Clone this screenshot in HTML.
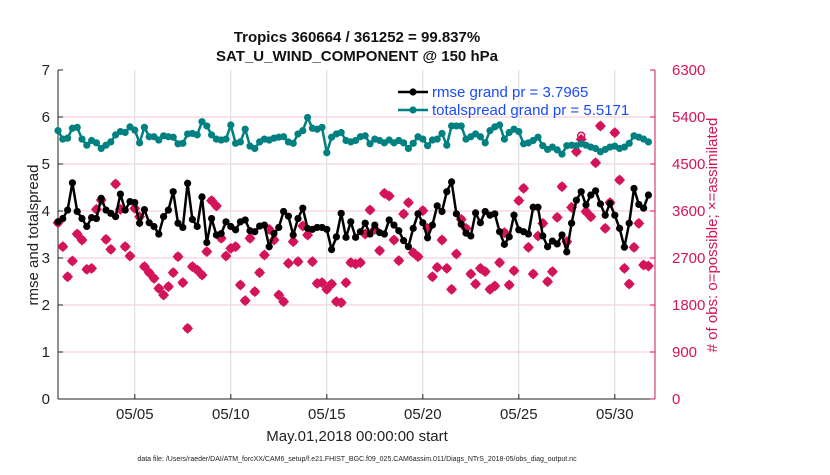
<!DOCTYPE html>
<html><head><meta charset="utf-8"><style>
body{margin:0;background:#fff;width:830px;height:470px;overflow:hidden;font-family:"Liberation Sans",Arial,sans-serif}
</style></head><body>
<svg id="chart" width="830" height="470" xmlns="http://www.w3.org/2000/svg" font-family="Liberation Sans, Arial, sans-serif"></svg>
<script>
const rmse=[3.77,3.84,4.02,4.60,3.99,3.84,3.67,3.86,3.84,4.27,4.02,3.95,3.88,4.36,4.02,4.20,4.18,3.74,4.03,3.75,3.67,3.51,3.88,4.02,4.41,3.74,3.65,4.59,3.82,3.67,4.30,3.33,3.84,3.49,3.52,3.77,3.67,3.60,3.77,3.81,3.58,3.56,3.68,3.70,3.24,3.52,3.65,3.99,3.89,3.49,3.84,4.06,3.63,3.61,3.65,3.65,3.61,3.18,3.45,3.95,3.44,3.77,
3.44,3.56,3.74,3.51,3.70,3.54,3.51,3.81,3.70,3.58,3.37,3.24,3.63,3.94,3.75,3.43,3.70,4.11,3.99,4.41,4.62,3.94,3.72,3.53,3.47,3.96,3.75,3.99,3.91,3.94,3.56,3.29,3.45,3.91,3.60,3.56,3.51,4.08,4.08,3.47,3.24,3.36,3.30,3.49,3.13,3.74,4.23,4.41,4.13,4.34,4.43,4.15,3.91,4.16,3.91,3.63,3.23,3.74,4.48,4.14,4.06,4.34];
const spread=[5.71,5.53,5.55,5.76,5.78,5.53,5.40,5.50,5.45,5.33,5.40,5.47,5.62,5.69,5.67,5.79,5.72,5.45,5.78,5.58,5.58,5.51,5.60,5.58,5.57,5.43,5.44,5.64,5.65,5.62,5.90,5.81,5.62,5.53,5.51,5.53,5.83,5.44,5.47,5.74,5.38,5.33,5.47,5.53,5.51,5.55,5.57,5.58,5.47,5.44,5.64,5.71,5.99,5.76,5.74,5.78,5.24,5.57,5.64,5.67,5.50,5.47,
5.50,5.58,5.60,5.43,5.53,5.50,5.45,5.51,5.45,5.50,5.45,5.33,5.44,5.58,5.53,5.39,5.51,5.53,5.65,5.40,5.81,5.81,5.81,5.53,5.58,5.64,5.58,5.45,5.71,5.79,5.83,5.53,5.67,5.74,5.69,5.43,5.45,5.50,5.57,5.39,5.31,5.36,5.30,5.21,5.39,5.40,5.39,5.43,5.40,5.36,5.33,5.26,5.31,5.36,5.38,5.33,5.36,5.44,5.60,5.57,5.53,5.47];
const assim=[3376,2917,2342,2643,3160,3045,2483,2502,3632,3811,3057,2866,4117,3632,2917,2738,3651,3491,2534,2419,2311,2119,1991,2151,2419,2726,2228,1353,2534,2470,2374,2821,3798,3696,3077,2738,2885,2917,2183,1883,3077,2055,2419,2757,3249,3045,1991,1864,2598,3013,2630,3313,3140,2630,2215,2228,2100,2202,1864,1845,2228,2611,
2585,2611,3160,3619,3249,2841,3938,3887,3045,2649,3543,3760,2802,2726,3607,3268,2342,2521,3045,2502,2100,2777,3440,3268,2394,2202,2502,2438,2100,2164,2611,3185,2183,2457,3798,4034,2904,2394,3121,3364,2247,2438,3479,4066,3013,3670,4736,4972,3587,3491,4525,5228,3268,3760,5100,4194,2502,2202,2904,3364,2566,2547];
const possible=assim.slice(); possible[109]=5040;
const leftTicks=[0,1,2,3,4,5,6,7];
const rightTicks=[0,900,1800,2700,3600,4500,5400,6300];
const dateTicks=[4,9,14,19,24,29];
const dateLabels=["05/05","05/10","05/15","05/20","05/25","05/30"];
const stepDays=0.25;

const NS="http://www.w3.org/2000/svg";
const svg=document.getElementById('chart');
const X0=58,X1=655,Y0=399,Y1=70;
const xs=d=>X0+d*19.2;
const yl=v=>Y0-(v/7)*(Y0-Y1);
const yr=v=>Y0-(v/6300)*(Y0-Y1);
const RED="#d4145a",TEAL="#008080";
function el(t,a,p){const e=document.createElementNS(NS,t);for(const k in a)e.setAttribute(k,a[k]);(p||svg).appendChild(e);return e;}
function txt(s,a,p){const e=el('text',a,p);e.textContent=s;return e;}

// gridlines
const grid=el('g',{});


leftTicks.forEach(v=>{if(v>0&&v<7)el('line',{x1:X0,x2:X1,y1:yl(v),y2:yl(v),stroke:"#f3c6d6","stroke-width":1},grid);});
dateTicks.forEach(d=>el('line',{x1:xs(d),x2:xs(d),y1:Y1,y2:Y0,stroke:"#dcdcdc","stroke-width":1},grid));

// axes
const lax=el('line',{x1:X0,x2:X0,y1:Y1,y2:Y0,stroke:"#222"});


const bax=el('line',{x1:X0,x2:X1,y1:Y0,y2:Y0,stroke:"#222"});


const rax=el('line',{x1:X1,x2:X1,y1:Y1,y2:Y0,stroke:RED});



leftTicks.forEach(v=>{
  el('line',{x1:X0,x2:X0+5,y1:yl(v),y2:yl(v),stroke:"#222"});
  const t=txt(String(v),{x:X0-8,y:yl(v)+5,"text-anchor":"end","font-size":15,fill:"#222"});
  
  
});
rightTicks.forEach(v=>{
  el('line',{x1:X1-5,x2:X1,y1:yr(v),y2:yr(v),stroke:RED});
  const t=txt(String(v),{x:X1+17,y:yr(v)+5,"font-size":15,fill:RED});
  
  
});
dateTicks.forEach((d,i)=>{
  el('line',{x1:xs(d),x2:xs(d),y1:Y0,y2:Y0-5,stroke:"#222"});
  const t=txt(dateLabels[i],{x:xs(d),y:Y0+20,"text-anchor":"middle","font-size":15,fill:"#222"});
  
  
});

// obs markers
const obsG=el('g',{});


possible.forEach((v,i)=>{el('circle',{cx:xs(i*stepDays),cy:yr(v),r:3.5,fill:"none",stroke:RED,"stroke-width":1.5},obsG);});
assim.forEach((v,i)=>{
  const x=xs(i*stepDays),y=yr(v),s=5.5;
  const p=el('path',{d:`M${x} ${y-s}L${x+s} ${y}L${x} ${y+s}L${x-s} ${y}Z`,fill:RED},obsG);
  
  
});

function series(arr,color,name){
  const g=el('g',{});
  
  
  el('polyline',{points:arr.map((v,i)=>xs(i*stepDays)+","+yl(v)).join(" "),fill:"none",stroke:color,"stroke-width":2.5},g);
  arr.forEach((v,i)=>el('circle',{cx:xs(i*stepDays),cy:yl(v),r:3.6,fill:color},g));
}
series(spread,TEAL,'totalspread-series');
series(rmse,"#000",'rmse-series');

// legend
const lg=el('g',{});


[[92,"#000","rmse grand pr = 3.7965"],[110,TEAL,"totalspread grand pr = 5.5171"]].forEach(([y,c,s])=>{
  el('line',{x1:398,x2:428,y1:y,y2:y,stroke:c,"stroke-width":2.5},lg);
  el('circle',{cx:413,cy:y,r:3.6,fill:c},lg);
  const t=txt(s,{x:432,y:y+5,"font-size":15,fill:"#1a4cff"},lg);
  
  
});

// titles
let t;
t=txt("Tropics 360664 / 361252 = 99.837%",{x:357,y:42,"text-anchor":"middle","font-size":15,"font-weight":"bold",fill:"#111"});


t=txt("SAT_U_WIND_COMPONENT @ 150 hPa",{x:357,y:61,"text-anchor":"middle","font-size":15,"font-weight":"bold",fill:"#111"});


t=txt("May.01,2018 00:00:00 start",{x:357,y:441,"text-anchor":"middle","font-size":15,fill:"#222"});


t=txt("rmse and totalspread",{x:0,y:0,"text-anchor":"middle","font-size":15,fill:"#222",transform:"translate(38,235) rotate(-90)"});


t=txt("# of obs: o=possible; \u00d7=assimilated",{x:0,y:0,"text-anchor":"middle","font-size":15,fill:RED,transform:"translate(717,235) rotate(-90)"});


t=txt("data file: /Users/raeder/DAI/ATM_forcXX/CAM6_setup/f.e21.FHIST_BGC.f09_025.CAM6assim.011/Diags_NTrS_2018-05/obs_diag_output.nc",{x:357,y:461,"text-anchor":"middle","font-size":7,fill:"#222"});


</script>
</body></html>
